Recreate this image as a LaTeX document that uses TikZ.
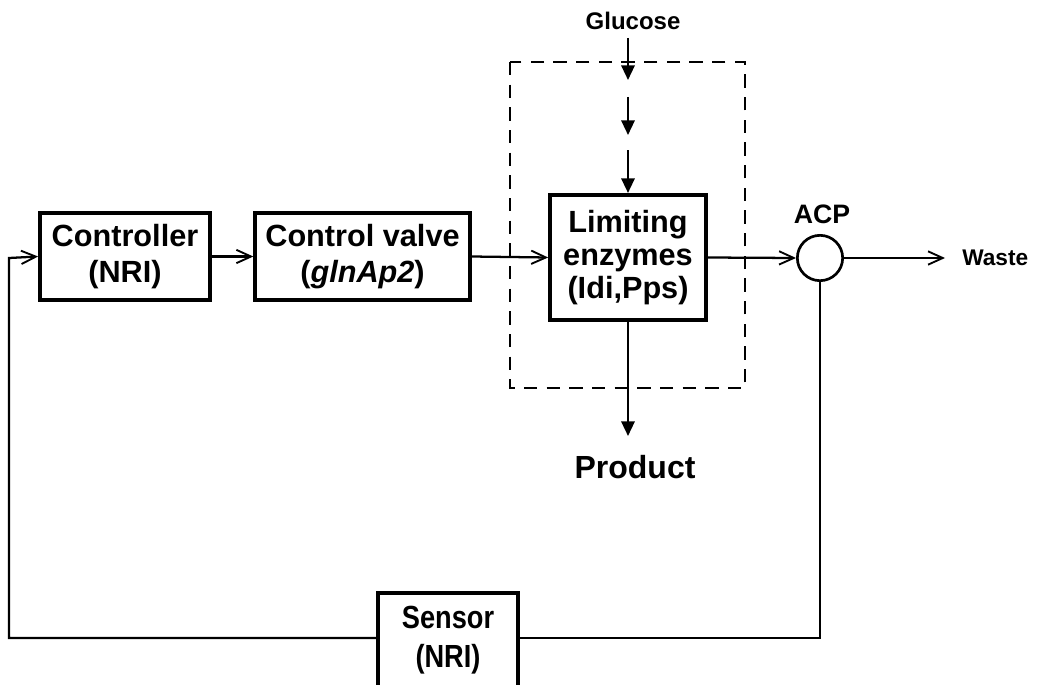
\documentclass[tikz,border=0pt]{standalone}
\usepackage{fontspec}
\setmainfont{Liberation Sans}
\newfontfamily\narrowfont[FakeStretch=0.85]{Liberation Sans}
\usetikzlibrary{arrows.meta}
\begin{document}
\begin{tikzpicture}[x=0.75pt,y=-0.75pt,
  blk/.style={draw,line width=2.8pt,inner sep=0pt,align=center,font=\fontsize{23}{27}\selectfont\bfseries},
  conn/.style={line width=1.7pt},
  open/.style={conn,-{Straight Barb[length=11pt,width=10pt,line width=1.4pt]}},
  fill/.style={conn,-{Triangle[length=11pt,width=10pt]}},
  lbl/.style={inner sep=0pt,font=\bfseries}
]
\useasboundingbox (0,0) rectangle (1039,685);
% blocks
\node[blk,minimum width=127.5pt,minimum height=65pt] (ctrl) at (125,256.5) {Controller\\(NRI)};
\node[blk,minimum width=161pt,minimum height=65pt] (valve) at (362.5,256.5) {Control valve\\(\textit{glnAp2})};
\node[blk,minimum width=117pt,minimum height=94pt,font=\fontsize{23}{25}\selectfont\bfseries] (lim) at (628,257.5) {Limiting\\enzymes\\(Idi,Pps)};
\node[blk,minimum width=105pt,minimum height=70pt,font=\fontsize{24}{29}\selectfont\bfseries\narrowfont] (sens) at (448,640) {Sensor\\(NRI)};
\draw[line width=2pt,dash pattern=on 10pt off 7pt] (510,62) rectangle (745,388);
\node[draw,circle,line width=2pt,minimum size=34pt,inner sep=0pt] (acp) at (820,258) {};
% labels
\node[lbl,font=\fontsize{18}{20}\selectfont\bfseries] (glu) at (633,21) {Glucose};
\node[lbl,font=\fontsize{20}{22}\selectfont\bfseries] (acpl) at (822,214) {ACP};
\node[lbl,font=\fontsize{17}{20}\selectfont\bfseries,anchor=west] (waste) at (962,258) {Waste};
\node[lbl,font=\fontsize{24}{28}\selectfont\bfseries] (prod) at (635,467) {Product};
% coordinates
\coordinate (g1) at (628,38);
\coordinate (g1e) at (628,80);
\coordinate (g2) at (628,97);
\coordinate (g2e) at (628,135);
\coordinate (g3) at (628,150);
\coordinate (pe) at (628,436);
\coordinate (we) at (945,258);
\coordinate (br) at (820,638);
\coordinate (bl) at (9,638);
\coordinate (tl) at (9,258);
% connectors
\draw[fill] (g1) -- (g1e);
\draw[fill] (g2) -- (g2e);
\draw[fill] (g3) -- (lim.north -| g3);
\draw[fill] (lim.south) -- (pe);
\draw[open] (ctrl.east) -- (valve.west);
\draw[open] (valve.east) -- (lim.west);
\draw[open] (lim.east) -- (acp.west);
\draw[open] (acp.east) -- (we);
\draw[conn] (acp.south) -- (br) -- (sens.east |- br);
\draw[open] (sens.west |- bl) -- (bl) -- (tl) -- (ctrl.west);
\end{tikzpicture}
\end{document}
